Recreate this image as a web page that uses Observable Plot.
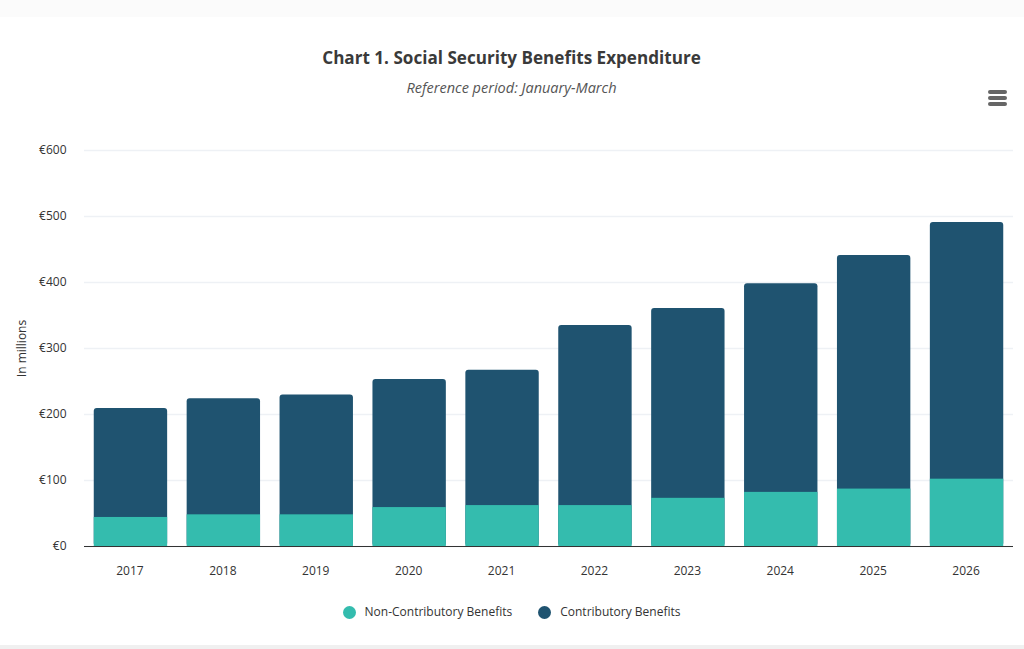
<!DOCTYPE html>
<html><head><meta charset="utf-8">
<script src="https://cdn.jsdelivr.net/npm/d3@7"></script>
<script src="https://cdn.jsdelivr.net/npm/@observablehq/plot@0.6"></script>
<style>
html,body{margin:0;padding:0;background:#fff;width:1024px;height:649px;overflow:hidden;font-family:"Open Sans",sans-serif}
#band{position:absolute;left:0;top:0;width:1024px;height:17px;background:#fbfbfb}
#foot{position:absolute;left:0;top:645px;width:1024px;height:4px;background:#f0f0f0}
#title{position:absolute;top:45px;left:0;width:1023px;text-align:center;font-size:17.1px;font-weight:700;color:#3a3a3a;line-height:25px}
#sub{position:absolute;top:78px;left:0;width:1023px;text-align:center;font-size:14.5px;font-style:italic;color:#555;line-height:20px}
#menu{position:absolute;left:988px;top:90px;width:19px}
#menu i{display:block;height:3.5px;border-radius:2px;background:#666;margin-bottom:2.5px}
#chart{position:absolute;left:0;top:120px}
#legend{position:absolute;top:602px;left:0;width:1023px;display:flex;justify-content:center;gap:26px;font-size:12px;color:#333;line-height:20px}
#legend span{display:flex;align-items:center}
#legend b{display:inline-block;width:13px;height:13px;border-radius:50%;margin-right:9px}
</style></head><body>
<div id="band"></div>
<div id="title">Chart 1. Social Security Benefits Expenditure</div>
<div id="sub">Reference period: January-March</div>
<div id="menu"><i></i><i></i><i></i></div>
<div id="chart"></div>
<div id="legend"></div>
<div id="foot"></div>
<script>
const years = [2017,2018,2019,2020,2021,2022,2023,2024,2025,2026];
const nonContributory = [44,48,48,59,62,62,73,82,87,102];
const contributory = [165,176,181.5,194,205,273,287.5,316,354,389];
const seriesNames = ["Non-Contributory Benefits","Contributory Benefits"];
const seriesColors = ["#34bcae","#1f5370"];
const yTicks = [0,100,200,300,400,500,600];

const rows = years.map((y,i)=>({year:y,non:nonContributory[i],total:nonContributory[i]+contributory[i]}));

const plot = Plot.plot({
  width:1024,height:470,
  marginLeft:84,marginRight:11,marginTop:30,marginBottom:44,
  style:{fontFamily:'"Open Sans",sans-serif',fontSize:"12px",color:"#333",background:"transparent"},
  x:{type:"band",domain:years,paddingInner:0.21,paddingOuter:0.105,round:false,label:null},
  y:{domain:[0,600],label:null},
  marks:[
    Plot.gridY(yTicks,{stroke:"#eef1f5",strokeOpacity:1,strokeWidth:1.5}),
    Plot.axisY({ticks:yTicks,tickSize:0,tickPadding:18,tickFormat:d=>"€"+d,label:"In millions",labelAnchor:"center",labelArrow:"none",labelOffset:67,fontSize:12}),
    Plot.axisX({tickSize:0,tickPadding:20,dx:-1,tickFormat:d=>String(d),label:null,fontSize:12}),
    Plot.barY(rows,{x:"year",y1:0,y2:"total",fill:seriesColors[1],rx:3}),
    Plot.barY(rows,{x:"year",y1:0,y2:"non",fill:seriesColors[0]}),
    Plot.ruleY([0],{stroke:"#333",strokeWidth:1.2})
  ]
});
document.getElementById("chart").append(plot);

const lg = d3.select("#legend");
seriesNames.forEach((n,i)=>{
  const s = lg.append("span");
  s.append("b").style("background",seriesColors[i]);
  s.append("text").text(n);
});
</script>
</body></html>
